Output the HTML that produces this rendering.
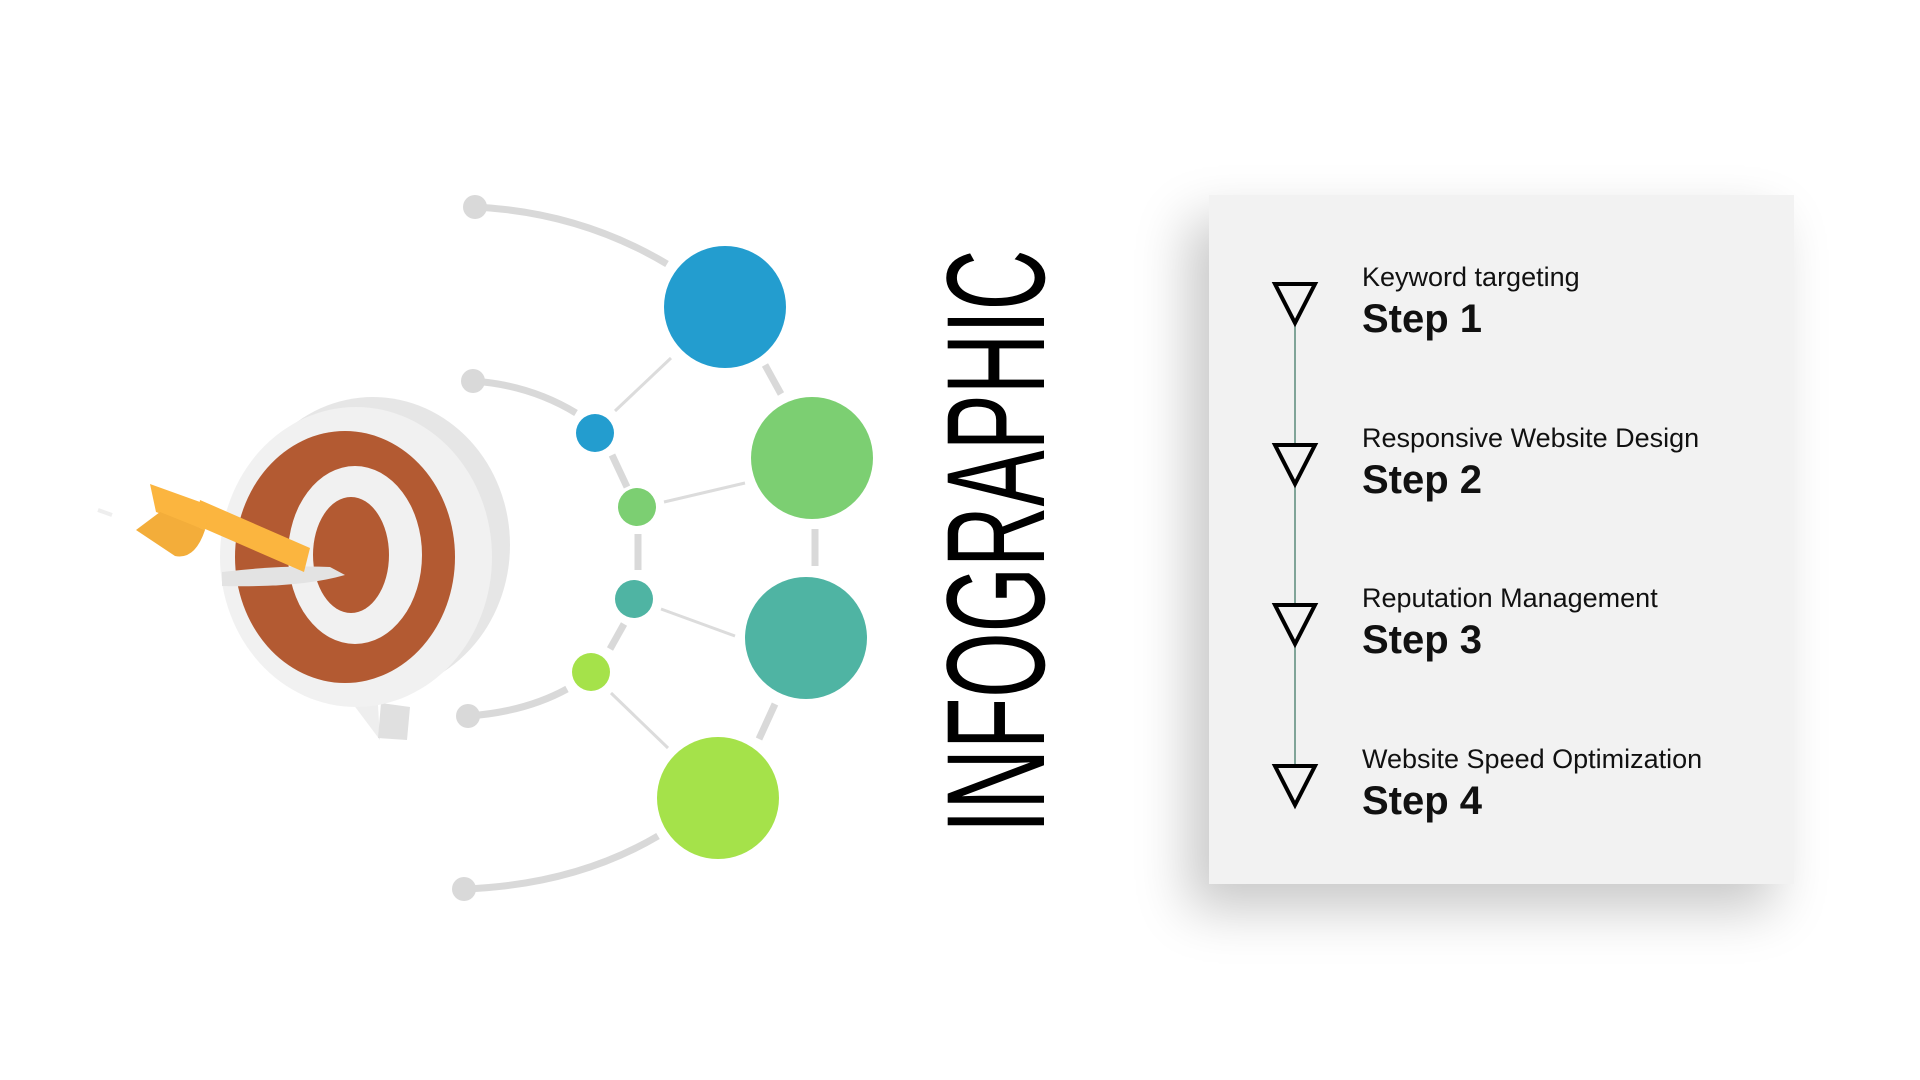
<!DOCTYPE html>
<html><head><meta charset="utf-8"><style>
html,body{margin:0;padding:0;background:#fff;width:1920px;height:1080px;overflow:hidden;font-family:"Liberation Sans",sans-serif}
.card{position:absolute;left:1209px;top:195px;width:585px;height:689px;background:#f2f2f2;box-shadow:-20px 25px 50px rgba(0,0,0,0.22)}
.title{position:absolute;left:926px;top:833px;transform-origin:0 0;transform:rotate(-90deg) scaleX(0.6);font-size:140px;color:#000;white-space:nowrap;line-height:1}
.lbl{position:absolute;left:1362px;font-size:27px;color:#111;white-space:nowrap}
.st{position:absolute;left:1362px;font-size:40px;font-weight:bold;color:#111;white-space:nowrap}
</style></head><body>
<div class="card"></div>
<svg width="1920" height="1080" style="position:absolute;left:0;top:0">
<g stroke="#d9d9d9" stroke-width="7" fill="none" stroke-linecap="butt">
<path d="M475 207 Q580 212 667 264"/>
<path d="M473 381 Q530 385 576 413"/>
<path d="M468 716 Q525 712 567 689"/>
<path d="M464 889 Q575 885 658 836"/>
<path d="M765 365 L781 394"/><path d="M815 529 L815 566"/><path d="M775 704 L759 739"/>
<path d="M612 455 L627 487"/><path d="M638 534 L638 570"/><path d="M624 624 L610 649"/>
</g>
<g fill="#d9d9d9"><circle cx="475" cy="207" r="12"/><circle cx="473" cy="381" r="12"/><circle cx="468" cy="716" r="12"/><circle cx="464" cy="889" r="12"/></g>
<g stroke="#dcdcdc" stroke-width="3"><line x1="671" y1="358" x2="615" y2="411"/><line x1="664" y1="502" x2="745" y2="483"/><line x1="661" y1="609" x2="735" y2="636"/><line x1="611" y1="693" x2="668" y2="748"/></g>
<circle cx="725" cy="307" r="61" fill="#239dcf"/>
<circle cx="812" cy="458" r="61" fill="#7ccf72"/>
<circle cx="806" cy="638" r="61" fill="#4fb4a3"/>
<circle cx="718" cy="798" r="61" fill="#a5e24a"/>
<circle cx="595" cy="433" r="19" fill="#239dcf"/>
<circle cx="637" cy="507" r="19" fill="#7ccf72"/>
<circle cx="634" cy="599" r="19" fill="#4fb4a3"/>
<circle cx="591" cy="672" r="19" fill="#a5e24a"/>
<!-- target -->
<polygon points="350,700 380,740 378,705" fill="#eeeeee"/>
<polygon points="381,703 410,707 407,740 378,738" fill="#e0e0e0"/>
<ellipse cx="373" cy="545" rx="137" ry="148" fill="#e6e6e6"/>
<ellipse cx="356" cy="557" rx="136" ry="150" fill="#f1f1f1"/>
<ellipse cx="345" cy="557" rx="110" ry="126" fill="#b35a32"/>
<ellipse cx="355" cy="555" rx="67" ry="89" fill="#f1f1f1"/>
<ellipse cx="351" cy="555" rx="38" ry="58" fill="#b35a32"/>
<path d="M222 572 Q280 565 330 567 L345 575 Q300 588 222 586 Z" fill="#e3e3e3"/>
<polygon points="200,500 310,548 304,572 196,525" fill="#fbb53f"/>
<path d="M150 484 L200 502 Q210 515 205 530 L156 512 Z" fill="#fbb53f"/>
<path d="M136 530 L160 512 L205 530 Q195 560 175 556 Z" fill="#f3ad3a"/>
<line x1="98" y1="510" x2="112" y2="515" stroke="#eee" stroke-width="4"/>
<!-- steps -->
<line x1="1295" y1="322" x2="1295" y2="770" stroke="#5a8a7a" stroke-width="1.5"/>
<g fill="#f2f2f2" stroke="#000" stroke-width="4">
<polygon points="1275,284 1315,284 1295,323"/>
<polygon points="1275,445 1315,445 1295,484"/>
<polygon points="1275,605 1315,605 1295,644"/>
<polygon points="1275,766 1315,766 1295,805"/>
</g>
</svg>
<div class="title">INFOGRAPHIC</div>
<div class="lbl" style="top:262px">Keyword targeting</div>
<div class="st" style="top:297px">Step 1</div>
<div class="lbl" style="top:423px">Responsive Website Design</div>
<div class="st" style="top:458px">Step 2</div>
<div class="lbl" style="top:583px">Reputation Management</div>
<div class="st" style="top:618px">Step 3</div>
<div class="lbl" style="top:744px">Website Speed Optimization</div>
<div class="st" style="top:779px">Step 4</div>
</body></html>
